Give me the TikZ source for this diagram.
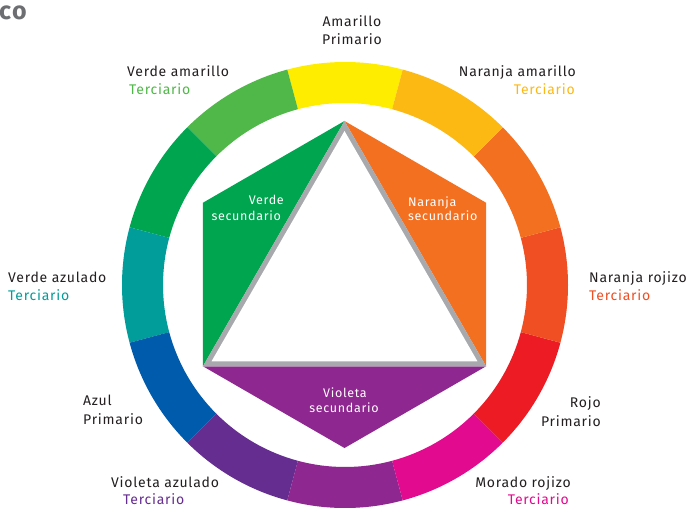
\documentclass[tikz,border=0pt]{standalone}
\usepackage{fontspec}
\setmainfont{Fira Sans}[LetterSpace=5.5]
\definecolor{cY}{HTML}{FFED00}
\definecolor{cYG}{HTML}{50B848}
\definecolor{cG}{HTML}{00A550}
\definecolor{cT}{HTML}{009D9A}
\definecolor{cB}{HTML}{005BAC}
\definecolor{cBV}{HTML}{662D91}
\definecolor{cV}{HTML}{8E278F}
\definecolor{cM}{HTML}{E20A8F}
\definecolor{cR}{HTML}{ED1C24}
\definecolor{cRO}{HTML}{F04E23}
\definecolor{cO}{HTML}{F37021}
\definecolor{cYO}{HTML}{FDB913}
\definecolor{cGray}{HTML}{A7A9AC}
\definecolor{cTxt}{HTML}{231F20}
\definecolor{cCo}{HTML}{6D6E71}
\tikzset{
  lbl/.style={inner sep=0pt, text=cTxt, font=\fontsize{14}{16}\selectfont},
  inlbl/.style={inner sep=0pt, text=white, font=\fontsize{12.5}{14}\selectfont},
}
\begin{document}
\begin{tikzpicture}[x=1pt,y=1pt]
\useasboundingbox (0,0) rectangle (688,507);
\fill[white] (0,0) rectangle (688,507);
% ring
\begin{scope}[shift={(345,222)}]
\foreach \a/\c in {90/cY,120/cYG,150/cG,180/cT,210/cB,240/cBV,270/cV,300/cM,330/cR,360/cRO,30/cO,60/cYO}{
  \pgfmathsetmacro{\s}{\a-15}
  \pgfmathsetmacro{\e}{\a+15}
  \fill[\c] (\s:223) arc[start angle=\s, end angle=\e, radius=223] -- (\e:182) arc[start angle=\e, end angle=\s, radius=182] -- cycle;
}
\end{scope}
% hexagon vertices
\begin{scope}[shift={(344.5,222.5)}]
\coordinate (H90) at (90:163.5);
\coordinate (H30) at (30:163.5);
\coordinate (Hm30) at (-30:163.5);
\coordinate (Hm90) at (-90:163.5);
\coordinate (H210) at (210:163.5);
\coordinate (H150) at (150:163.5);
\fill[cG] (H90) -- (H150) -- (H210) -- cycle;
\fill[cO] (H90) -- (H30) -- (Hm30) -- cycle;
\fill[cV] (H210) -- (Hm90) -- (Hm30) -- cycle;
\fill[cGray] (H90) -- (Hm30) -- (H210) -- cycle;
\fill[white] (90:153.5) -- (-30:153.5) -- (210:153.5) -- cycle;
\end{scope}
% corner text
\node[inner sep=0pt, anchor=base west, text=cCo, font=\fontsize{25}{27}\selectfont\bfseries] (co) at (-1,487) {co};
% outer labels
\node[lbl, anchor=base] (am1) at (352,480) {Amarillo};
\node[lbl, anchor=base] (am2) at (352,462) {Primario};
\node[lbl, anchor=base west] (va1) at (127,430) {Verde amarillo};
\node[lbl, anchor=base west, text=cYG] (va2) at (129,412) {Terciario};
\node[lbl, anchor=base east] (na1) at (576,430) {Naranja amarillo};
\node[lbl, anchor=base east, text=cYO] (na2) at (575,412) {Terciario};
\node[lbl, anchor=base west] (vz1) at (8,225) {Verde azulado};
\node[lbl, anchor=base west, text=cT] (vz2) at (8,207) {Terciario};
\node[lbl, anchor=base west] (nr1) at (589,225) {Naranja rojizo};
\node[lbl, anchor=base west, text=cRO] (nr2) at (589,207) {Terciario};
\node[lbl, anchor=base west] (az1) at (83,102) {Azul};
\node[lbl, anchor=base west] (az2) at (83,83) {Primario};
\node[lbl, anchor=base east] (ro1) at (601,100) {Rojo};
\node[lbl, anchor=base east] (ro2) at (601,81) {Primario};
\node[lbl, anchor=base west] (vb1) at (111,20) {Violeta azulado};
\node[lbl, anchor=base west, text=cBV] (vb2) at (123,3) {Terciario};
\node[lbl, anchor=base east] (mr1) at (571,20) {Morado rojizo};
\node[lbl, anchor=base east, text=cM] (mr2) at (569,3) {Terciario};
% inner labels
\node[inlbl, anchor=base east] (vs1) at (284,303) {Verde};
\node[inlbl, anchor=base east] (vs2) at (281,287) {secundario};
\node[inlbl, anchor=base west] (ns1) at (408,301) {Naranja};
\node[inlbl, anchor=base west] (ns2) at (408,287) {secundario};
\node[inlbl, anchor=base] (vls1) at (345,110) {Violeta};
\node[inlbl, anchor=base] (vls2) at (344,95) {secundario};
\end{tikzpicture}
\end{document}
